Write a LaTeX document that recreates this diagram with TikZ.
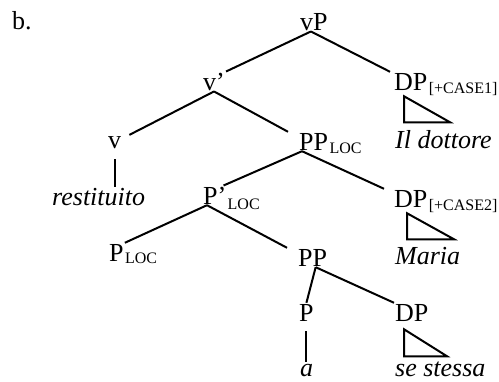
\documentclass[tikz,border=0pt]{standalone}
\usepackage{fontspec}
\setmainfont{Liberation Serif}
\usetikzlibrary{positioning}

\begin{document}
\begin{tikzpicture}[x=1pt, y=-1pt,
    cat/.style={anchor=base west, inner sep=1pt, font=\fontsize{26}{30}\selectfont},
    word/.style={cat, font=\fontsize{26}{30}\selectfont\itshape},
    feat/.style={anchor=base west, inner sep=0pt, font=\fontsize{16}{18}\selectfont},
    branch/.style={line width=2pt},
    roof/.style={line width=2pt, line join=miter}
]
\useasboundingbox (0,0) rectangle (499,381);

\node[cat] (ex) at (11,29) {b.};

% categories
\node[cat] (vP) at (299,30) {vP};
\node[cat] (vbar) at (202,90) {v’};
\node[cat] (dpA) at (393,90) {DP};
\node[feat] (dpAf) at ([yshift=-3pt]dpA.base east) {[+CASE1]};
\node[cat] (v) at (107,148) {v};
\node[cat] (ppl) at (298,150) {PP};
\node[feat] (pplf) at ([yshift=-3pt]ppl.base east) {LOC};
\node[cat] (pbar) at (202,204) {P’};
\node[feat] (pbarf) at ([yshift=-5pt]pbar.base east) {LOC};
\node[cat] (dpB) at (393,207) {DP};
\node[feat] (dpBf) at ([yshift=-3pt]dpB.base east) {[+CASE2]};
\node[cat] (pl) at (108,261) {P};
\node[feat] (plf) at ([yshift=-2pt]pl.base east) {LOC};
\node[cat] (pp) at (297,266) {PP};
\node[cat] (p) at (298,321) {P};
\node[cat] (dpC) at (394,321) {DP};

% words
\node[word] (dott) at (394,148) {Il dottore};
\node[word] (rest) at (51,205) {restituito};
\node[word] (maria) at (394,264) {Maria};
\node[word] (a) at (299,376) {a};
\node[word] (sest) at (394,376) {se stessa};

% branches
\draw[branch] ([xshift=-3pt]vP.south) -- (vbar.north east);
\draw[branch] ([xshift=-3pt]vP.south) -- ([xshift=-3pt]dpA.north west);
\draw[branch] (vbar.south) -- ([xshift=7pt]v.north east);
\draw[branch] (vbar.south) -- ([xshift=-10pt]ppl.north west);
\draw[branch, shorten <=10pt] (v.south) -- (v.south |- rest.north);
\draw[branch] ([xshift=4pt]ppl.south west) -- ([xshift=-4pt]pbar.north east);
\draw[branch] ([xshift=4pt]ppl.south west) -- ([xshift=-9pt]dpB.north west);
\draw[branch] ([xshift=5pt]pbar.south west) -- (pl.north east);
\draw[branch] ([xshift=5pt]pbar.south west) -- ([xshift=-10pt]pp.north west);
\draw[branch] ([xshift=3pt]pp.south) -- (p.north);
\draw[branch] ([xshift=3pt]pp.south) -- (dpC.north west);
\draw[branch, shorten <=9pt, shorten >=1pt] (p.south) -- (p.south |- a.north);

% roofs
\draw[roof] ([shift={(11pt,-5pt)}]dpA.south west) -- ++(0,26) -- ++(46,0) -- cycle;
\draw[roof] ([shift={(14pt,-5pt)}]dpB.south west) -- ++(0,26) -- ++(47,0) -- cycle;
\draw[roof] ([shift={(10pt,-7pt)}]dpC.south west) -- ++(0,27) -- ++(43,0) -- cycle;

\end{tikzpicture}
\end{document}
